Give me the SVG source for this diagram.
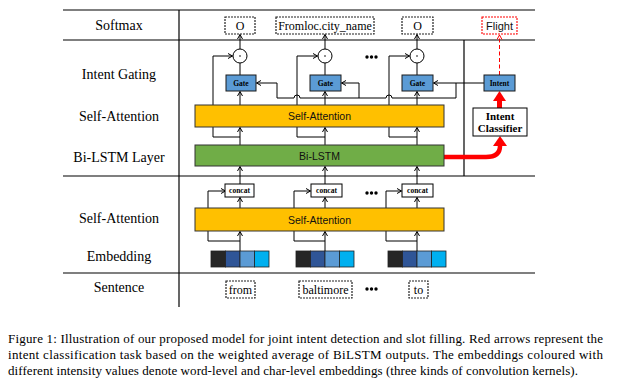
<svg xmlns="http://www.w3.org/2000/svg" width="617" height="385" viewBox="0 0 617 385">
<style>
.lbl{font-family:"Liberation Serif","Times New Roman",serif;font-size:14px;fill:#000;text-anchor:middle}
.tok{font-family:"Liberation Serif","Times New Roman",serif;font-size:12px;fill:#000;text-anchor:middle}
.small{font-family:"Liberation Serif","Times New Roman",serif;font-size:7.5px;font-weight:bold;fill:#000;text-anchor:middle}
.bar{font-family:"Liberation Sans",Arial,sans-serif;font-size:10.5px;fill:#111;text-anchor:middle}
.cap{font-family:"Liberation Serif","Times New Roman",serif;font-size:13px;fill:#000}
.rule{stroke:#000;stroke-width:1.2;fill:none}
.ln{stroke:#000;stroke-width:1;fill:none}
.arr{stroke:#000;stroke-width:1;fill:none;marker-end:url(#ah)}
.dash{fill:#fff;stroke:#222;stroke-width:1.2;stroke-dasharray:2 1}
.gate{fill:#5B9BD5;stroke:#1a1a1a;stroke-width:1}
.sa{fill:#FFC000;stroke:#333;stroke-width:1}
.lstm{fill:#70AD47;stroke:#333;stroke-width:1}
.cc{fill:#fff;stroke:#000;stroke-width:1}
.mul{fill:#fff;stroke:#000;stroke-width:1}
</style>
<defs>
<marker id="ah" markerWidth="7" markerHeight="7" refX="5" refY="3" orient="auto" markerUnits="userSpaceOnUse">
<path d="M0.5,0.5 L5,3 L0.5,5.5" fill="none" stroke="#000" stroke-width="1"/>
</marker>
<marker id="ahr" markerWidth="7" markerHeight="7" refX="5" refY="3" orient="auto" markerUnits="userSpaceOnUse">
<path d="M0.5,0.5 L5,3 L0.5,5.5" fill="none" stroke="#f00" stroke-width="1"/>
</marker>
</defs>

<g id="table">
<line class="rule" x1="63" y1="10" x2="535" y2="10"/>
<line class="rule" x1="63" y1="40" x2="535" y2="40"/>
<line class="rule" x1="63" y1="176" x2="535" y2="176"/>
<line x1="63" y1="273" x2="535" y2="273" stroke="#555" stroke-width="1.6"/>
<line class="rule" x1="179" y1="10" x2="179" y2="307"/>
<line class="rule" x1="464" y1="40" x2="464" y2="176"/>
</g>

<g id="row-labels">
<text class="lbl" x="119" y="30">Softmax</text>
<text class="lbl" x="119" y="79">Intent Gating</text>
<text class="lbl" x="119" y="121">Self-Attention</text>
<text class="lbl" x="119" y="162">Bi-LSTM Layer</text>
<text class="lbl" x="119" y="223">Self-Attention</text>
<text class="lbl" x="119" y="261">Embedding</text>
<text class="lbl" x="119" y="292">Sentence</text>
</g>

<g id="connectors">
<path class="arr" d="M240,145 V127.5"/>
<path class="arr" d="M240,137 H213 V56 H232.5"/>
<path class="arr" d="M240,105 V91.5"/>
<path class="ln" d="M240,75 V63"/>
<path class="arr" d="M240,49 V34.5"/>
<path class="arr" d="M325,145 V127.5"/>
<path class="arr" d="M325,137 H297 V56 H317.5"/>
<path class="arr" d="M325,105 V91.5"/>
<path class="ln" d="M325,75 V63"/>
<path class="arr" d="M325,49 V34.5"/>
<path class="arr" d="M417,145 V127.5"/>
<path class="arr" d="M417,137 H389 V56 H409.5"/>
<path class="arr" d="M417,105 V91.5"/>
<path class="ln" d="M417,75 V63"/>
<path class="arr" d="M417,49 V34.5"/>
<path class="arr" d="M484,83 H433.5"/>
<path class="arr" d="M456,83 V98 H392 A3,3 0 0 0 386,98 H300 A3,3 0 0 0 294,98 H277 V83 H256.5"/>
<path class="arr" d="M359,98 V83 H341.5"/>
<path class="arr" d="M240,251 V231.5"/>
<path class="arr" d="M240,241 H208 V191 H225.5"/>
<path class="arr" d="M240,208 V197.5"/>
<path class="arr" d="M240,184 V166.5"/>
<path class="arr" d="M325,251 V231.5"/>
<path class="arr" d="M325,241 H294 V191 H310.5"/>
<path class="arr" d="M325,208 V197.5"/>
<path class="arr" d="M325,184 V166.5"/>
<path class="arr" d="M417,251 V231.5"/>
<path class="arr" d="M417,241 H386 V191 H401.5"/>
<path class="arr" d="M417,208 V197.5"/>
<path class="arr" d="M417,184 V166.5"/>
<path d="M444,157 H486 Q500,157 500,146" fill="none" stroke="#f00" stroke-width="4.5"/>
<polygon points="493,146 507,146 500,136" fill="#f00"/>
<rect x="497" y="100" width="5" height="8" fill="#f00"/>
<polygon points="493,101 506,101 499.5,91" fill="#f00"/>
<path d="M499.5,75 V35" fill="none" stroke="#f00" stroke-width="1" stroke-dasharray="4 2.5" marker-end="url(#ahr)"/>
</g>

<g id="self-attention-top"><rect class="sa" x="195" y="105" width="249" height="22"/><text class="bar" x="319.5" y="120">Self-Attention</text></g>
<g id="bilstm"><rect class="lstm" x="195" y="145" width="249" height="21"/><text class="bar" x="319.5" y="159.5">Bi-LSTM</text></g>
<g id="self-attention-bottom"><rect class="sa" x="195" y="208" width="249" height="23"/><text class="bar" x="319.5" y="223.5">Self-Attention</text></g>

<g id="out1"><rect class="dash" x="225" y="17" width="30" height="17"/><text class="tok" x="240" y="30">O</text></g>
<g id="out2"><rect class="dash" x="276" y="17" width="98" height="17"/><text class="tok" x="325" y="30">Fromloc.city_name</text></g>
<g id="out3"><rect class="dash" x="402" y="17" width="31" height="17"/><text class="tok" x="417.5" y="30">O</text></g>
<g id="flight"><rect x="482" y="17" width="35" height="17" fill="#fff" stroke="#f00" stroke-width="1.1" stroke-dasharray="2 1"/><text class="bar" x="499.5" y="29.5" style="font-size:11px">Flight</text></g>

<g id="mul1"><circle class="mul" cx="240" cy="56" r="7"/><circle cx="240" cy="56" r="0.8"/></g>
<g id="mul2"><circle class="mul" cx="325" cy="56" r="7"/><circle cx="325" cy="56" r="0.8"/></g>
<g id="mul3"><circle class="mul" cx="417" cy="56" r="7"/><circle cx="417" cy="56" r="0.8"/></g>

<g id="dots-top"><circle cx="367" cy="57" r="1.7"/><circle cx="371.5" cy="57" r="1.7"/><circle cx="376" cy="57" r="1.7"/></g>

<g id="gate1"><rect class="gate" x="226" y="75" width="30" height="16"/><text class="small" x="241" y="85.5">Gate</text></g>
<g id="gate2"><rect class="gate" x="310" y="75" width="31" height="16"/><text class="small" x="325.5" y="85.5">Gate</text></g>
<g id="gate3"><rect class="gate" x="402" y="75" width="31" height="16"/><text class="small" x="417.5" y="85.5">Gate</text></g>
<g id="intent"><rect class="gate" x="484" y="75" width="31" height="16"/><text class="small" x="499.5" y="85.5">Intent</text></g>

<g id="intent-classifier"><rect x="473" y="108" width="54" height="28" fill="#fff" stroke="#000" stroke-width="1"/>
<text class="lbl" x="500" y="119.5" style="font-size:11px;font-weight:bold">Intent</text>
<text class="lbl" x="500" y="132" style="font-size:11px;font-weight:bold">Classifier</text></g>

<g id="concat1"><rect class="cc" x="225" y="184" width="29" height="13"/><text class="small" x="239.5" y="193">concat</text></g>
<g id="concat2"><rect class="cc" x="311" y="184" width="31" height="13"/><text class="small" x="326.5" y="193">concat</text></g>
<g id="concat3"><rect class="cc" x="402" y="184" width="31" height="13"/><text class="small" x="417.5" y="193">concat</text></g>
<g id="dots-mid"><circle cx="367" cy="193" r="1.7"/><circle cx="371.5" cy="193" r="1.7"/><circle cx="376" cy="193" r="1.7"/></g>

<g id="emb1" stroke="#222" stroke-width="0.8">
<rect x="211" y="251" width="14.5" height="16" fill="#262626"/><rect x="225.5" y="251" width="14.5" height="16" fill="#2F5597"/><rect x="240" y="251" width="14.5" height="16" fill="#5B9BD5"/><rect x="254.5" y="251" width="14.5" height="16" fill="#00B0F0"/></g>
<g id="emb2" stroke="#222" stroke-width="0.8">
<rect x="296" y="251" width="14.5" height="16" fill="#262626"/><rect x="310.5" y="251" width="14.5" height="16" fill="#2F5597"/><rect x="325" y="251" width="14.5" height="16" fill="#5B9BD5"/><rect x="339.5" y="251" width="14.5" height="16" fill="#00B0F0"/></g>
<g id="emb3" stroke="#222" stroke-width="0.8">
<rect x="388" y="251" width="14.5" height="16" fill="#262626"/><rect x="402.5" y="251" width="14.5" height="16" fill="#2F5597"/><rect x="417" y="251" width="14.5" height="16" fill="#5B9BD5"/><rect x="431.5" y="251" width="14.5" height="16" fill="#00B0F0"/></g>

<g id="word1"><rect class="dash" x="226" y="281" width="29" height="17"/><text class="tok" x="240.5" y="294">from</text></g>
<g id="word2"><rect class="dash" x="299" y="281" width="53" height="17"/><text class="tok" x="325.5" y="294">baltimore</text></g>
<g id="word3"><rect class="dash" x="409" y="281" width="19" height="17"/><text class="tok" x="418.5" y="294">to</text></g>
<g id="dots-bottom"><circle cx="367" cy="289" r="1.7"/><circle cx="371.5" cy="289" r="1.7"/><circle cx="376" cy="289" r="1.7"/></g>

<g id="caption">
<text class="cap" x="8" y="343" textLength="595" lengthAdjust="spacing">Figure 1: Illustration of our proposed model for joint intent detection and slot filling. Red arrows represent the</text>
<text class="cap" x="8" y="359" textLength="595" lengthAdjust="spacing">intent classification task based on the weighted average of BiLSTM outputs. The embeddings coloured with</text>
<text class="cap" x="8" y="374.5" textLength="570" lengthAdjust="spacing">different intensity values denote word-level and char-level embeddings (three kinds of convolution kernels).</text>
</g>
</svg>
